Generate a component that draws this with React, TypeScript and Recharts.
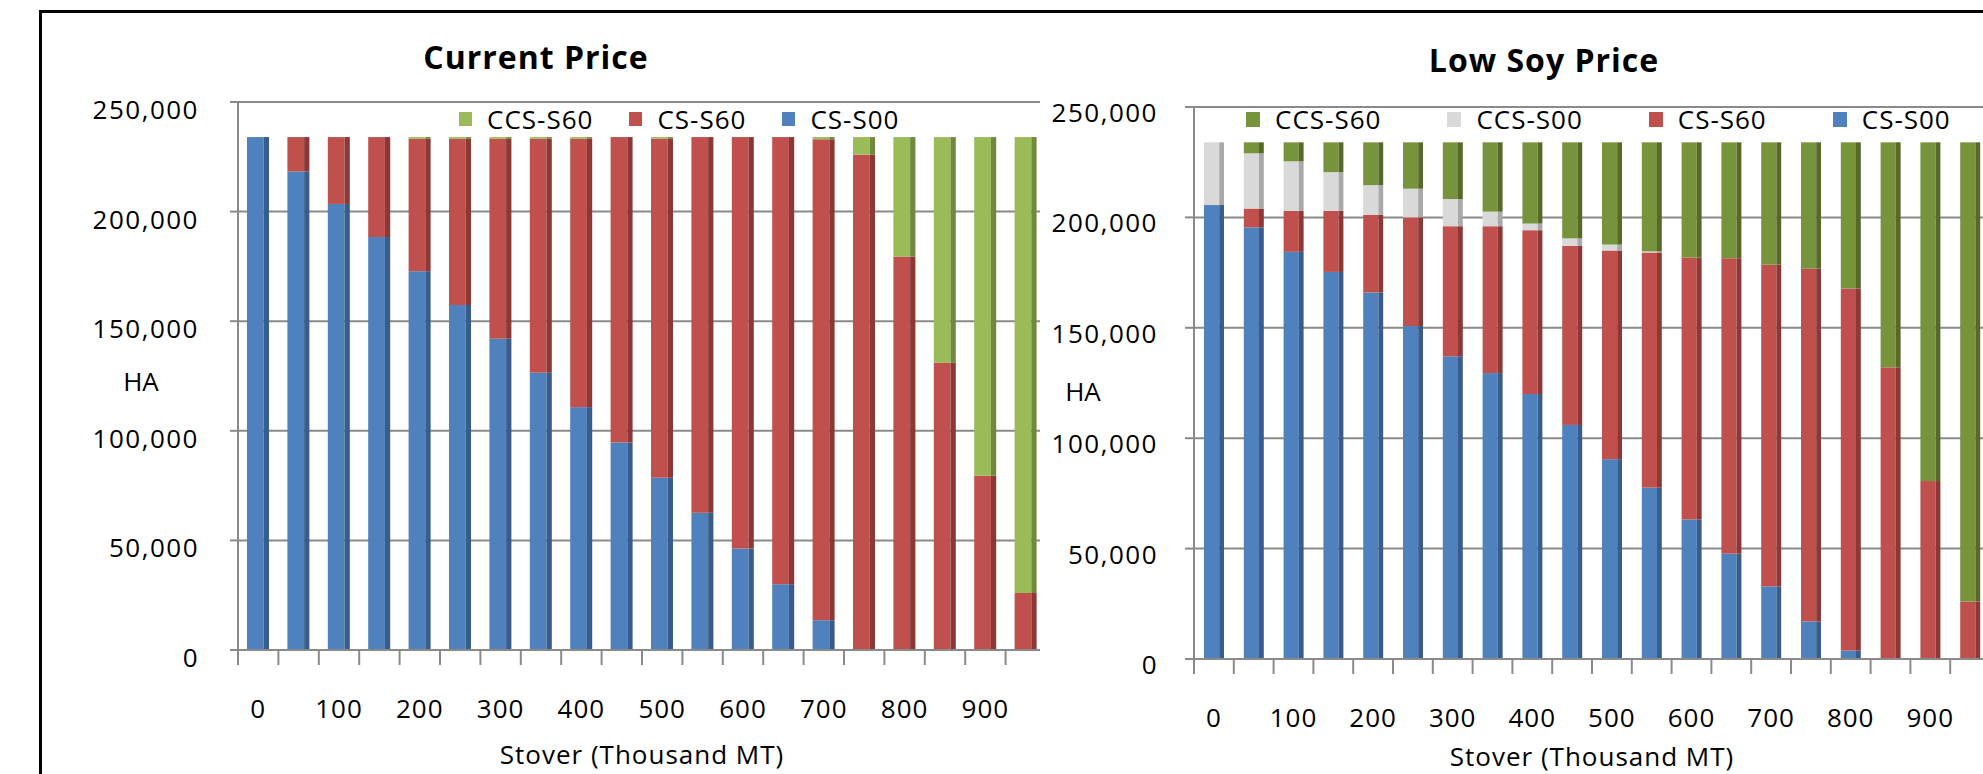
import { BarChart, Bar, XAxis, YAxis, CartesianGrid } from 'recharts'

// stover supply (thousand MT), one bar per step
const stover = [0, 50, 100, 150, 200, 250, 300, 350, 400, 450, 500, 550, 600, 650, 700, 750, 800, 850, 900, 950]
const haTicks = [0, 50000, 100000, 150000, 200000, 250000]

// Current Price (HA)
const curCS00 = [234000, 218300, 203500, 188400, 172800, 157400, 142000, 126500, 110800, 94700, 78600, 62600, 46300, 30000, 13600, 0, 0, 0, 0, 0]
const curCS60 = [0, 15700, 30500, 45600, 60400, 75800, 91200, 106700, 122400, 139300, 154600, 171400, 187700, 204000, 219400, 226000, 179500, 131000, 79500, 26000]
const curCCS60 = [0, 0, 0, 0, 800, 800, 800, 800, 800, 0, 800, 0, 0, 0, 1000, 8000, 54500, 103000, 154500, 208000]

// Low Soy Price (HA)
const lowCS00 = [205600, 195500, 184400, 175300, 166000, 150800, 137100, 129500, 120000, 106000, 90500, 77600, 63200, 47700, 32900, 17000, 3800, 0, 0, 0]
const lowCS60 = [0, 8500, 18600, 27700, 35200, 49200, 58900, 66500, 74200, 81100, 94500, 106500, 118600, 133800, 145700, 159800, 164000, 132100, 80600, 26000]
const lowCCS00 = [28400, 25000, 22400, 17500, 13400, 13000, 12300, 6600, 3000, 3400, 2700, 500, 0, 0, 0, 0, 0, 0, 0, 0]
const lowCCS60 = [0, 5000, 8600, 13500, 19400, 21000, 25700, 31400, 36800, 43500, 46300, 49400, 52200, 52500, 55400, 57200, 66200, 101900, 153400, 208000]

const currentData = stover.map((s, i) => ({ stover: s, cs00: curCS00[i], cs60: curCS60[i], ccs60: curCCS60[i] }))
const lowData = stover.map((s, i) => ({ stover: s, cs00: lowCS00[i], cs60: lowCS60[i], ccs00: lowCCS00[i], ccs60: lowCCS60[i] }))

type Series = { key: string; name: string; fill: string; side: string }

// stack order bottom -> top
const currentSeries: Series[] = [
  { key: 'cs00', name: 'CS-S00', fill: '#4F81BD', side: '#385D8A' },
  { key: 'cs60', name: 'CS-S60', fill: '#C0504D', side: '#8C3836' },
  { key: 'ccs60', name: 'CCS-S60', fill: '#9BBB59', side: '#71893F' },
]
const lowSeries: Series[] = [
  { key: 'cs00', name: 'CS-S00', fill: '#4F81BD', side: '#385D8A' },
  { key: 'cs60', name: 'CS-S60', fill: '#C0504D', side: '#8C3836' },
  { key: 'ccs00', name: 'CCS-S00', fill: '#D9D9D9', side: '#A9A9A9' },
  { key: 'ccs60', name: 'CCS-S60', fill: '#77933C', side: '#56692B' },
]

const FONT = '"Open Sans", sans-serif'
const AXIS = '#8a8a8a'

function Bar3D(props: any) {
  const { x, y, width, height, fill, side } = props
  if (!height || height <= 0) return null
  const front = width * 0.76
  return (
    <g>
      <rect x={x} y={y} width={front} height={height} fill={fill} />
      <rect x={x + front} y={y} width={width - front} height={height} fill={side} />
    </g>
  )
}

function StoverTick(props: any) {
  const { x, y, payload, index } = props
  const half = payload?.offset ?? 0
  return (
    <g>
      <line x1={x - half} x2={x - half} y1={y} y2={y + 15} stroke={AXIS} strokeWidth={2} />
      {index % 2 === 0 && (
        <text x={x} y={y + 58} textAnchor="middle" dominantBaseline="central"
          fontFamily={FONT} fontSize={26} letterSpacing={1} fill="#000">
          {payload.value}
        </text>
      )}
    </g>
  )
}

function HaTick(props: any) {
  const { x, y, payload, shift } = props
  return (
    <text x={x} y={y + shift} textAnchor="end" dominantBaseline="central"
      fontFamily={FONT} fontSize={26} letterSpacing={1.5} fill="#000">
      {Number(payload.value).toLocaleString('en-US')}
    </text>
  )
}

function LegendRow({ items, left, top, gap, sq }: { items: Series[]; left: number; top: number; gap: number; sq: number }) {
  return (
    <div style={{ position: 'absolute', left, top, display: 'flex', alignItems: 'center', gap, fontFamily: FONT, fontSize: 26, lineHeight: '26px', letterSpacing: 1, color: '#000', whiteSpace: 'nowrap' }}>
      {items.map((s) => (
        <div key={s.key} style={{ display: 'flex', alignItems: 'center' }}>
          <span style={{ display: 'inline-block', width: sq, height: sq + 1, background: s.fill, marginRight: 15 }} />
          <span>{s.name}</span>
        </div>
      ))}
    </div>
  )
}

type PanelProps = {
  title: string
  titleX: number
  titleTop: number
  data: any[]
  series: Series[]
  width: number
  height: number
  marginTop: number
  marginRight: number
  yWidth: number
  xHeight: number
  tickSize: number
  tickMargin: number
  tickShift: number
  barSize: number
  haDx: number
  haDy: number
  titleOffset: number
  legendLeft: number
  legendTop: number
  legendGap: number
  legendSq: number
}

function Panel(p: PanelProps) {
  const legendItems = [...p.series].reverse()
  return (
    <>
      <div style={{ position: 'absolute', left: p.titleX - 300, width: 600, top: p.titleTop, textAlign: 'center', fontFamily: FONT, fontSize: 32, lineHeight: '32px', fontWeight: 700, letterSpacing: 1, color: '#000' }}>
        {p.title}
      </div>
      <BarChart width={p.width} height={p.height} data={p.data}
        margin={{ top: p.marginTop, right: p.marginRight, bottom: 0, left: 0 }} barCategoryGap={0}>
        <CartesianGrid vertical={false} stroke={AXIS} strokeWidth={2} />
        <XAxis dataKey="stover" type="category" height={p.xHeight} interval={0}
          tickLine={false} tickSize={0} tickMargin={0}
          axisLine={{ stroke: AXIS, strokeWidth: 2 }}
          tick={<StoverTick />}
          label={{ value: 'Stover (Thousand MT)', position: 'insideBottom', offset: p.titleOffset, style: { fontFamily: FONT, fontSize: 26, letterSpacing: 1, fill: '#000' } }} />
        <YAxis type="number" domain={[0, 250000]} ticks={haTicks} width={p.yWidth}
          tickSize={p.tickSize} tickMargin={p.tickMargin}
          tickLine={{ stroke: AXIS, strokeWidth: 2 }} axisLine={{ stroke: AXIS, strokeWidth: 2 }}
          tick={<HaTick shift={p.tickShift} />}
          label={{ value: 'HA', position: 'center', dx: p.haDx, dy: p.haDy, style: { fontFamily: FONT, fontSize: 26, fill: '#000' } }} />
        {p.series.map((s) => (
          <Bar key={s.key} dataKey={s.key} name={s.name} stackId="ha" fill={s.fill}
            barSize={p.barSize} isAnimationActive={false}
            shape={(bp: any) => <Bar3D {...bp} side={s.side} />} />
        ))}
      </BarChart>
      <LegendRow items={legendItems} left={p.legendLeft} top={p.legendTop} gap={p.legendGap} sq={p.legendSq} />
    </>
  )
}

export default function App() {
  return (
    <div style={{ position: 'absolute', left: 0, top: 0, width: 1983, height: 774, overflow: 'hidden', background: '#fff' }}>
      <div style={{ position: 'absolute', left: 0, top: 0, width: 1060, height: 774 }}>
        <Panel title="Current Price" titleX={536} titleTop={41}
          data={currentData} series={currentSeries}
          width={1060} height={774} marginTop={102} marginRight={14}
          yWidth={238} xHeight={124} tickSize={8} tickMargin={31} tickShift={7}
          barSize={22} haDx={22} haDy={6} titleOffset={10}
          legendLeft={459} legendTop={106} legendGap={36} legendSq={13} />
      </div>
      <div style={{ position: 'absolute', left: 1040, top: 14, width: 943, height: 760, overflow: 'hidden', background: '#fff' }}>
        <Panel title="Low Soy Price" titleX={504} titleTop={30}
          data={lowData} series={lowSeries}
          width={960} height={760} marginTop={93} marginRight={10}
          yWidth={154} xHeight={115} tickSize={9} tickMargin={27} tickShift={5}
          barSize={20} haDx={-34} haDy={9} titleOffset={8}
          legendLeft={206} legendTop={92} legendGap={66} legendSq={14} />
      </div>
      <div style={{ position: 'absolute', left: 39, top: 10, width: 2100, height: 900, borderLeft: '3px solid #000', borderTop: '3px solid #000', pointerEvents: 'none' }} />
    </div>
  )
}
